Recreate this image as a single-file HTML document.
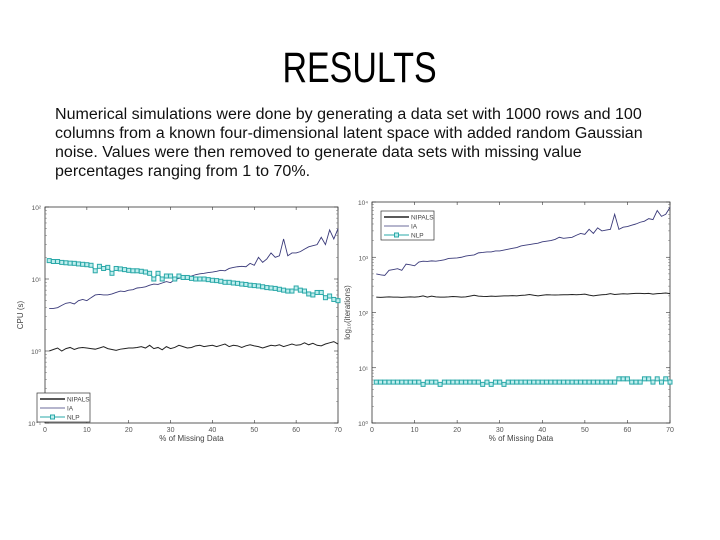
<!DOCTYPE html>
<html><head><meta charset="utf-8">
<style>
html,body{margin:0;padding:0;background:#fff;}
body{width:720px;height:540px;position:relative;overflow:hidden;font-family:"Liberation Sans",sans-serif;}
#title{position:absolute;left:0;width:720px;top:43px;text-align:center;font-size:43px;line-height:50px;color:#000;}
#title span{display:inline-block;transform:scaleX(0.79);}
.ln{position:absolute;left:55px;font-size:15.5px;white-space:nowrap;transform-origin:0 0;transform:scaleX(1.035);color:#111;}
svg{position:absolute;left:0;top:0;}
</style></head><body>
<div id="title"><span>RESULTS</span></div>
<div>
<div class="ln" style="top:106px">Numerical simulations were done by generating a data set with 1000 rows and 100</div>
<div class="ln" style="top:125px">columns from a known four-dimensional latent space with added random Gaussian</div>
<div class="ln" style="top:144px">noise. Values were then removed to generate data sets with missing value</div>
<div class="ln" style="top:163px">percentages ranging from 1 to 70%.</div>
</div>
<svg id="svg" width="720" height="540"></svg>
<script>
const xTicks=[0,10,20,30,40,50,60,70];
const L_ia=[3.9,3.9,4.0,4.3,4.6,4.7,4.5,5.0,5.2,5.0,5.5,6.0,6.1,6.0,6.0,6.2,6.5,6.8,6.7,7.0,7.1,7.5,7.6,7.8,8.2,8.5,8.4,8.8,9.2,8.9,9.8,10.2,10.5,10.8,11.0,11.5,11.8,12.0,12.3,12.5,12.8,13.2,13.0,14.0,14.5,14.8,15.0,14.8,16.5,15.5,20,17,19,23,20,21,36,21,23,23,24,26,28,29,30,38,30,48,36,50];
const L_nipals=[1.0,1.05,1.1,1.0,1.08,1.12,1.05,1.1,1.12,1.1,1.08,1.06,1.1,1.15,1.08,1.05,1.02,1.06,1.08,1.1,1.1,1.12,1.15,1.1,1.2,1.08,1.12,1.04,1.15,1.08,1.12,1.2,1.15,1.1,1.12,1.18,1.2,1.15,1.18,1.2,1.15,1.2,1.25,1.15,1.2,1.18,1.12,1.18,1.22,1.18,1.15,1.1,1.15,1.2,1.18,1.22,1.15,1.2,1.25,1.2,1.22,1.3,1.22,1.28,1.2,1.18,1.25,1.3,1.35,1.25];
const L_nlp=[18,17.5,17.5,17,16.8,16.6,16.5,16.2,16,15.8,15.5,13,15,14,14.5,12,14,13.8,13.5,13.2,13,13,12.8,12.5,12,10,12,10,11,11,10,11,10.5,10.5,10.2,10,10,10,9.8,9.6,9.5,9.3,9,9,8.8,8.7,8.5,8.4,8.2,8.1,8,7.8,7.6,7.5,7.4,7.2,7,6.8,6.8,7.5,7,6.8,6.2,6,6.5,6.5,5.5,5.8,5.2,5];
const R_ia=[500,480,470,580,600,620,580,750,730,700,820,850,840,860,850,870,900,950,960,970,1000,1050,1080,1100,1200,1220,1250,1250,1300,1300,1350,1400,1450,1500,1600,1650,1700,1750,1800,1900,1950,2000,2100,2300,2200,2250,2300,2500,2700,2600,3200,2700,3400,3000,3100,3200,6000,3200,3500,3600,3800,4000,4300,4500,5000,4800,7000,5500,6000,8000];
const R_nipals=[190,188,190,192,190,190,188,190,192,190,193,200,190,198,192,190,190,192,195,193,190,192,198,205,198,196,195,198,196,198,200,200,202,200,204,206,212,205,200,205,210,208,207,208,210,210,212,210,212,215,206,200,205,210,212,220,212,215,218,216,220,222,222,220,222,215,220,222,225,220];
const R_nlp=[5.5,5.5,5.5,5.5,5.5,5.5,5.5,5.5,5.5,5.5,5.5,5.0,5.5,5.5,5.5,5.0,5.5,5.5,5.5,5.5,5.5,5.5,5.5,5.5,5.5,5.0,5.5,5.0,5.5,5.5,5.0,5.5,5.5,5.5,5.5,5.5,5.5,5.5,5.5,5.5,5.5,5.5,5.5,5.5,5.5,5.5,5.5,5.5,5.5,5.5,5.5,5.5,5.5,5.5,5.5,5.5,5.5,6.3,6.3,6.3,5.5,5.5,5.5,6.3,6.3,5.5,6.3,5.5,6.3,5.5];
const L_yTicks=["10\u207B\u00B9","10\u2070","10\u00B9","10\u00B2"];
const R_yTicks=["10\u2070","10\u00B9","10\u00B2","10\u00B3","10\u2074"];
const NS="http://www.w3.org/2000/svg";
const svg=document.getElementById('svg');
function mk(t,a,p){const e=document.createElementNS(NS,t);for(const k in a)e.setAttribute(k,a[k]);(p||svg).appendChild(e);return e;}
function chart(o){
  const g=mk('g',{});
  
  
  const X=v=>o.x0+(v-0)/70*(o.x1-o.x0);
  const Y=v=>o.y1-(Math.log10(v)-o.dmin)/(o.dmax-o.dmin)*(o.y1-o.y0);
  const f=mk('rect',{x:o.x0,y:o.y0,width:o.x1-o.x0,height:o.y1-o.y0,fill:'#fff',stroke:'#333','stroke-width':0.8},g);
  
  
  xTicks.forEach(t=>{const x=X(t);
    mk('line',{x1:x,x2:x,y1:o.y1,y2:o.y1-3,stroke:'#333','stroke-width':0.6},g);
    mk('line',{x1:x,x2:x,y1:o.y0,y2:o.y0+3,stroke:'#333','stroke-width':0.6},g);
    const tx=mk('text',{x:x,y:o.y1+9,'font-size':7,'text-anchor':'middle',fill:'#555'},g);tx.textContent=t;
    
    });
  o.yt.forEach((lab,i)=>{const y=Y(Math.pow(10,o.dmin+i));
    mk('line',{x1:o.x0,x2:o.x0+4,y1:y,y2:y,stroke:'#333','stroke-width':0.6},g);
    mk('line',{x1:o.x1,x2:o.x1-4,y1:y,y2:y,stroke:'#333','stroke-width':0.6},g);
    for(let m=2;m<10&&i<o.yt.length-1;m++){const ym=Y(m*Math.pow(10,o.dmin+i));
      mk('line',{x1:o.x0,x2:o.x0+2,y1:ym,y2:ym,stroke:'#555','stroke-width':0.4},g);
      mk('line',{x1:o.x1,x2:o.x1-2,y1:ym,y2:ym,stroke:'#555','stroke-width':0.4},g);}
    const tx=mk('text',{x:o.x0-4,y:y+3,'font-size':6.5,'text-anchor':'end',fill:'#555'},g);tx.textContent=lab;
    
    });
  const xl=mk('text',{x:(o.x0+o.x1)/2,y:o.y1+18,'font-size':8,'text-anchor':'middle',fill:'#444'},g);xl.textContent='% of Missing Data';
  
  
  const yx=o.x0-22,yy=(o.y0+o.y1)/2;
  const yl=mk('text',{x:yx,y:yy,'font-size':8,'text-anchor':'middle',fill:'#444',transform:`rotate(-90 ${yx} ${yy})`},g);yl.textContent=o.ytitle;
  
  
  function line(arr,col,w,name,mark){
    const pts=arr.map((v,i)=>X(i+1)+','+Y(v)).join(' ');
    const p=mk('polyline',{points:pts,fill:'none',stroke:col,'stroke-width':w},g);
    
    
    if(mark)arr.forEach((v,i)=>{const r=mk('rect',{x:X(i+1)-2,y:Y(v)-2,width:4,height:4,fill:'#bfeeee',stroke:'#2aa8a8','stroke-width':1},g);
      
      });
  }
  line(o.nipals,'#222',1,'nipals-line');
  line(o.ia,'#3a3a7a',0.9,'ia-line');
  line(o.nlp,'#2aa8a8',1.2,'nlp-line',true);
  const lg=mk('g',{},g);
  
  
  const lx=o.lx,ly=o.ly;
  mk('rect',{x:lx,y:ly,width:o.lw,height:29,fill:'#fff',stroke:'#333','stroke-width':0.7},lg);
  [['NIPALS','#222',1.4],['IA','#3a3a7a',0.8],['NLP','#2aa8a8',1]].forEach((e,i)=>{
    const yy=ly+6+i*9;
    mk('line',{x1:lx+3,x2:lx+28,y1:yy,y2:yy,stroke:e[1],'stroke-width':e[2]},lg);
    if(i==2)mk('rect',{x:lx+13.5,y:yy-2,width:4,height:4,fill:'#bfeeee',stroke:'#2aa8a8'},lg);
    const t=mk('text',{x:lx+30,y:yy+2.5,'font-size':6.5,fill:'#444'},lg);t.textContent=e[0];
    
    
  });
}
chart({name:'cpu-time-chart',x0:45,x1:338,y0:207,y1:423,dmin:-1,dmax:2,yt:L_yTicks,ytitle:'CPU (s)',ia:L_ia,nipals:L_nipals,nlp:L_nlp,lx:37,ly:393,lw:53});
chart({name:'iterations-chart',x0:372,x1:670,y0:202,y1:423,dmin:0,dmax:4,yt:R_yTicks,ytitle:'log\u2081\u2080(iterations)',ia:R_ia,nipals:R_nipals,nlp:R_nlp,lx:381,ly:211,lw:53});
</script>
</body></html>
